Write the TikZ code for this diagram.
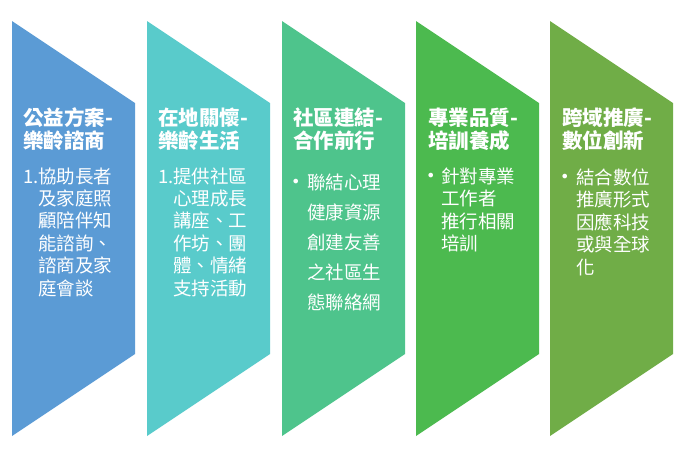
\documentclass[tikz,border=0pt]{standalone}
\usepackage{fontspec}
\setmainfont{Noto Sans CJK TC}
\newfontfamily\bulfont{DejaVu Sans}
\definecolor{cA}{HTML}{5B9BD5}
\definecolor{cB}{HTML}{59CBCB}
\definecolor{cC}{HTML}{4EC48C}
\definecolor{cD}{HTML}{4CBA4F}
\definecolor{cE}{HTML}{70AD47}
\tikzset{
  chev/.style={fill=#1, draw=none},
  ttl/.style={text=white, font=\fontsize{20.5}{24}\selectfont\bfseries, inner sep=0pt, anchor=base west},
  body/.style={text=white, font=\fontsize{18.5}{22}\selectfont, inner sep=0pt, anchor=base west},
  bul/.style={text=white, font=\bulfont\fontsize{16}{18}\selectfont, inner sep=0pt, anchor=base west}
}
\begin{document}
\begin{tikzpicture}[x=1pt,y=-1pt]
\useasboundingbox (0,0) rectangle (686,451);
% chevrons
\foreach \xo/\c [count=\i] in {12/cA,147/cB,282/cC,416/cD,550/cE}{
  \fill[chev=\c] (\xo,21) -- (\xo+123,103) -- (\xo+123,354) -- (\xo,436) -- cycle;
}
% column 1
\node[ttl] (t1a) at (23,125) {公益方案-};
\node[ttl] (t1b) at (23,148.5) {樂齡諮商};
\node[body] (b1n) at (23,183) {1.};
\foreach \t [count=\k] in {協助長者,及家庭照,顧陪伴知,能諮詢、,諮商及家,庭會談}
  \node[body] (b1l\k) at (38,183+22.4*\k-22.4) {\t};
% column 2
\node[ttl] (t2a) at (158,125) {在地關懷-};
\node[ttl] (t2b) at (158,148.5) {樂齡生活};
\node[body] (b2n) at (158,183) {1.};
\foreach \t [count=\k] in {提供社區,心理成長,講座、工,作坊、團,體、情緒,支持活動}
  \node[body] (b2l\k) at (173,183+22.4*\k-22.4) {\t};
% column 3
\node[ttl] (t3a) at (293,125) {社區連結-};
\node[ttl] (t3b) at (293,148.5) {合作前行};
\node[bul] (d3) at (291,187) {•};
\foreach \t [count=\k] in {聯結心理,健康資源,創建友善,之社區生,態聯絡網}
  \node[body] (b3l\k) at (307,189+30*\k-30) {\t};
% column 4
\node[ttl] (t4a) at (428,125) {專業品質-};
\node[ttl] (t4b) at (428,148.5) {培訓養成};
\node[bul] (d4) at (426,181) {•};
\foreach \t [count=\k] in {針對專業,工作者,推行相關,培訓}
  \node[body] (b4l\k) at (441,183+22.6*\k-22.6) {\t};
% column 5
\node[ttl] (t5a) at (562,125) {跨域推廣-};
\node[ttl] (t5b) at (562,148.5) {數位創新};
\node[bul] (d5) at (560,182) {•};
\foreach \t [count=\k] in {結合數位,推廣形式,因應科技,或與全球,化}
  \node[body] (b5l\k) at (576,184+22.6*\k-22.6) {\t};
\end{tikzpicture}
\end{document}
